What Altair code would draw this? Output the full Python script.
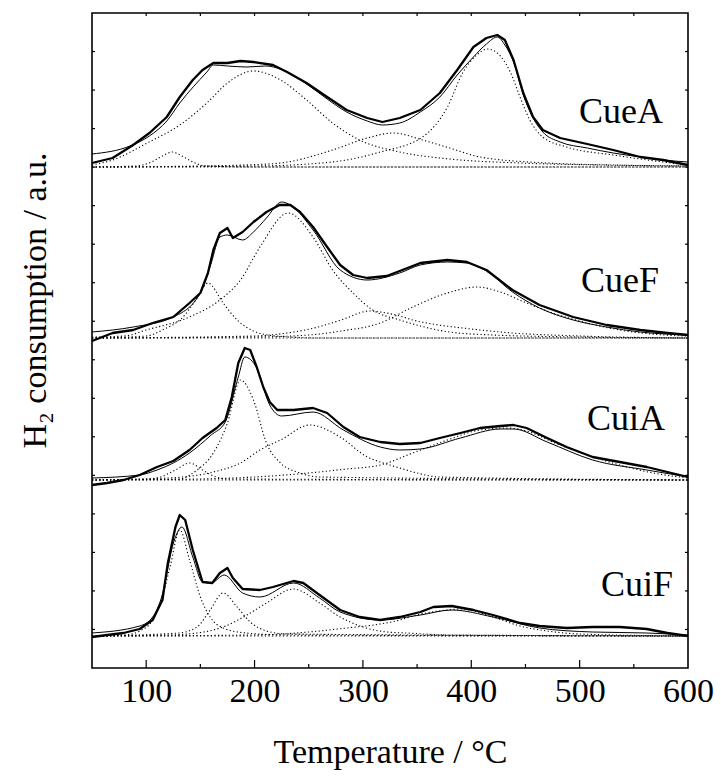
import altair as alt
import pandas as pd

# ---------------- data ----------------
# temperature (°C) and signal height (a.u.) above each profile's own baseline
panels = ["CueA", "CueF", "CuiA", "CuiF"]
panel_offsets = [501, 330, 188, 32]   # stacking offset of each profile (a.u.)

# ---- CueA ----
cuea_exp_t = [50, 69, 88, 103, 119, 131, 143, 152, 162, 175, 187, 199, 217, 230, 248, 267, 285, 304, 318, 334,
              353, 371, 387, 402, 414, 424, 431, 439, 448, 457, 466, 482, 507, 531, 556, 577, 600]
cuea_exp_h = [4, 9, 22, 34, 50, 70, 87, 97, 104, 104, 106, 105, 102, 95, 84, 70, 57, 49, 45, 49,
              57, 74, 97, 120, 129, 132, 127, 107, 74, 50, 37, 29, 23, 17, 10, 7, 2]
cuea_fit_t = [50, 85, 103, 119, 131, 156, 162, 175, 193, 210, 230, 248, 267, 285, 304, 318, 334, 353, 371, 387,
              402, 414, 424, 431, 439, 448, 457, 466, 482, 507, 531, 556, 577, 600]
cuea_fit_h = [13, 21, 31, 46, 64, 95, 102, 101, 100, 101, 95, 83, 68, 55, 46, 42, 44, 55, 70, 92,
              110, 123, 130, 122, 105, 72, 49, 35, 25, 19, 14, 10, 7, 5]
cuea_p1_t = [50, 90, 105, 115, 124, 133, 143, 155, 200, 600]
cuea_p1_h = [0, 1, 5, 11, 15, 11, 5, 1, 0, 0]
cuea_p2_t = [50, 69, 101, 131, 156, 175, 199, 224, 248, 272, 297, 334, 380, 445, 519, 600]
cuea_p2_h = [2, 7, 24, 42, 64, 84, 96, 87, 67, 44, 27, 15, 8, 4, 2, 1]
cuea_p3_t = [50, 150, 190, 224, 272, 304, 328, 355, 380, 408, 470, 530, 600]
cuea_p3_h = [0, 1, 2, 4, 17, 29, 34, 27, 19, 10, 4, 2, 1]
cuea_p4_t = [50, 200, 250, 290, 316, 355, 378, 392, 405, 415, 424, 436, 445, 454, 466, 488, 531, 577, 600]
cuea_p4_h = [0, 1, 3, 8, 15, 30, 60, 94, 112, 118, 114, 95, 70, 47, 30, 20, 12, 5, 2]

# ---- CueF ----
cuef_exp_t = [50, 69, 88, 106, 125, 140, 150, 157, 162, 168, 175, 180, 189, 199, 211, 223, 233, 242, 254, 267,
              279, 291, 304, 322, 334, 353, 378, 396, 414, 438, 463, 494, 525, 556, 581, 600]
cuef_exp_h = [-3, 5, 8, 15, 21, 35, 45, 65, 88, 105, 110, 100, 106, 116, 126, 133, 133, 126, 111, 91,
              73, 63, 60, 62, 67, 75, 78, 76, 68, 48, 33, 21, 13, 8, 5, 3]
cuef_fit_t = [50, 88, 125, 150, 160, 168, 175, 189, 199, 211, 225, 233, 254, 279, 304, 334, 353, 378, 396, 414,
              438, 463, 494, 525, 556, 600]
cuef_fit_h = [6, 11, 21, 45, 75, 101, 103, 98, 106, 120, 136, 133, 108, 68, 58, 65, 73, 76, 75, 67,
              46, 30, 18, 11, 6, 3]
cuef_p1_t = [50, 100, 115, 134, 147, 157, 171, 184, 199, 220, 260, 600]
cuef_p1_h = [0, 2, 8, 21, 40, 55, 35, 18, 7, 2, 0, 0]
cuef_p2_t = [50, 80, 100, 140, 168, 187, 205, 231, 254, 272, 291, 309, 334, 353, 380, 420, 500, 600]
cuef_p2_h = [1, 2, 8, 21, 38, 58, 91, 125, 101, 68, 45, 28, 18, 12, 6, 3, 1, 0]
cuef_p3_t = [50, 200, 230, 255, 280, 306, 316, 334, 346, 370, 392, 438, 500, 600]
cuef_p3_h = [0, 2, 5, 10, 18, 27, 26, 22, 18, 13, 10, 5, 2, 0]
cuef_p4_t = [50, 200, 250, 280, 316, 346, 378, 405, 427, 451, 475, 507, 537, 578, 600]
cuef_p4_h = [0, 1, 3, 7, 15, 31, 45, 51, 46, 35, 25, 15, 8, 3, 2]

# ---- CuiA ----
cuia_exp_t = [50, 64, 79, 94, 110, 125, 140, 152, 165, 173, 179, 185, 191, 196, 202, 208, 214, 221, 236, 254,
              267, 282, 297, 316, 334, 353, 371, 390, 408, 427, 439, 451, 470, 488, 512, 537, 562, 581, 600]
cuia_exp_h = [-5, -3, 0, 5, 13, 19, 30, 42, 52, 60, 83, 117, 132, 130, 113, 93, 78, 70, 70, 72,
              67, 53, 43, 38, 36, 37, 42, 47, 52, 54, 55, 52, 42, 33, 23, 18, 13, 8, 3]
cuia_fit_t = [50, 94, 110, 125, 140, 160, 173, 185, 191, 202, 214, 225, 254, 282, 316, 334, 353, 390, 427, 439,
              470, 512, 562, 600]
cuia_fit_h = [2, 5, 10, 17, 27, 45, 58, 103, 123, 112, 75, 64, 68, 50, 33, 30, 31, 42, 51, 51,
              38, 20, 10, 3]
cuia_p1_t = [50, 100, 113, 127, 140, 152, 160, 175, 600]
cuia_p1_h = [0, 1, 3, 10, 17, 10, 5, 1, 0]
cuia_p2_t = [50, 130, 147, 162, 175, 187, 199, 211, 224, 242, 260, 600]
cuia_p2_h = [0, 1, 10, 27, 57, 100, 80, 37, 17, 7, 3, 0]
cuia_p3_t = [50, 120, 162, 187, 205, 224, 251, 279, 304, 316, 334, 350, 370, 600]
cuia_p3_h = [0, 2, 8, 17, 30, 40, 55, 43, 23, 18, 12, 7, 3, 0]
cuia_p4_t = [50, 150, 200, 250, 285, 316, 346, 378, 408, 433, 451, 475, 507, 537, 568, 600]
cuia_p4_h = [0, 1, 3, 7, 11, 15, 27, 40, 50, 52, 49, 38, 25, 15, 7, 2]

# ---- CuiF ----
cuif_exp_t = [50, 64, 79, 94, 106, 115, 120, 127, 131, 136, 143, 152, 161, 168, 175, 180, 189, 205, 217, 236,
              245, 260, 279, 297, 316, 334, 353, 365, 382, 402, 420, 445, 463, 488, 512, 537, 562, 581, 600]
cuif_exp_h = [-1, 1, 3, 7, 16, 36, 73, 109, 121, 116, 86, 54, 53, 63, 68, 58, 47, 46, 49, 55,
              53, 41, 26, 19, 16, 19, 24, 29, 30, 26, 21, 13, 10, 8, 9, 9, 7, 3, 0]
cuif_fit_t = [50, 94, 106, 114, 126, 133, 143, 152, 160, 172, 189, 205, 236, 260, 279, 316, 353, 382, 420, 463,
              512, 562, 600]
cuif_fit_h = [3, 10, 19, 38, 96, 109, 79, 54, 53, 61, 43, 39, 53, 38, 24, 16, 21, 26, 19, 8,
              4, 3, 1]
cuif_p1_t = [50, 80, 94, 106, 115, 122, 131, 140, 150, 159, 171, 192, 230, 600]
cuif_p1_h = [0, 1, 5, 16, 39, 69, 106, 76, 39, 19, 8, 3, 1, 0]
cuif_p2_t = [50, 130, 147, 159, 171, 184, 196, 211, 230, 600]
cuif_p2_h = [0, 3, 9, 26, 43, 29, 14, 5, 2, 0]
cuif_p3_t = [50, 120, 147, 171, 193, 211, 236, 260, 279, 300, 322, 340, 380, 600]
cuif_p3_h = [0, 1, 3, 9, 21, 33, 47, 33, 19, 9, 4, 3, 1, 0]
cuif_p4_t = [50, 200, 250, 285, 316, 334, 346, 378, 390, 420, 445, 470, 500, 600]
cuif_p4_h = [0, 1, 4, 8, 12, 16, 20, 26, 27, 19, 10, 5, 2, 0]

baseline_t = [50, 600]
baseline_h = [0, 0]

# axis tick values
x_label_values = [100, 200, 300, 400, 500, 600]
x_major_ticks = [100, 200, 300, 400, 500]
x_minor_ticks = [150, 250, 350, 450, 550]
x_top_ticks = [100, 150, 200, 250, 300, 350, 400, 450, 500, 550]
y_ticks = [round(655 * k / 17, 2) for k in range(1, 17)]

# ---------------- assemble table ----------------
series = {
    "CueA": {"exp": (cuea_exp_t, cuea_exp_h), "fit": (cuea_fit_t, cuea_fit_h),
             "p1": (cuea_p1_t, cuea_p1_h), "p2": (cuea_p2_t, cuea_p2_h),
             "p3": (cuea_p3_t, cuea_p3_h), "p4": (cuea_p4_t, cuea_p4_h), "base": (baseline_t, baseline_h)},
    "CueF": {"exp": (cuef_exp_t, cuef_exp_h), "fit": (cuef_fit_t, cuef_fit_h),
             "p1": (cuef_p1_t, cuef_p1_h), "p2": (cuef_p2_t, cuef_p2_h),
             "p3": (cuef_p3_t, cuef_p3_h), "p4": (cuef_p4_t, cuef_p4_h), "base": (baseline_t, baseline_h)},
    "CuiA": {"exp": (cuia_exp_t, cuia_exp_h), "fit": (cuia_fit_t, cuia_fit_h),
             "p1": (cuia_p1_t, cuia_p1_h), "p2": (cuia_p2_t, cuia_p2_h),
             "p3": (cuia_p3_t, cuia_p3_h), "p4": (cuia_p4_t, cuia_p4_h), "base": (baseline_t, baseline_h)},
    "CuiF": {"exp": (cuif_exp_t, cuif_exp_h), "fit": (cuif_fit_t, cuif_fit_h),
             "p1": (cuif_p1_t, cuif_p1_h), "p2": (cuif_p2_t, cuif_p2_h),
             "p3": (cuif_p3_t, cuif_p3_h), "p4": (cuif_p4_t, cuif_p4_h), "base": (baseline_t, baseline_h)},
}

rows = []
for name, off in zip(panels, panel_offsets):
    for key, (ts, hs) in series[name].items():
        kind = key if key in ("exp", "fit") else "comp"
        for t, h in zip(ts, hs):
            rows.append({"T": t, "y": off + h, "curve": f"{name}-{key}", "kind": kind})
df = pd.DataFrame(rows)

# ---------------- chart ----------------
FONT = "Liberation Serif"
x_scale = alt.Scale(domain=[50, 600], nice=False, zero=False)
y_scale = alt.Scale(domain=[0, 655], nice=False, zero=False)
x_axis = alt.Axis(values=x_label_values, title="Temperature / °C", grid=False, ticks=False, tickSize=0,
                  domain=False, labelFont=FONT, labelFontSize=34, labelColor="black", labelPadding=6,
                  titleFont=FONT, titleFontSize=34, titleFontWeight="normal", titleColor="black",
                  titlePadding=27, labelFlush=False, labelOverlap=False)
y_axis = alt.Axis(title="H₂ consumption / a.u.", grid=False, ticks=False, tickSize=0, labels=False,
                  domain=False, titleFont=FONT, titleFontSize=34, titleFontWeight="normal",
                  titleColor="black", titlePadding=40, titleY=287)


def X():
    return alt.X("T:Q", scale=x_scale, axis=x_axis)


def Y():
    return alt.Y("y:Q", scale=y_scale, axis=y_axis)


base = alt.Chart(df)
comp = base.transform_filter(alt.datum.kind == "comp").mark_line(
    color="black", strokeWidth=1.1, strokeDash=[1.2, 2.4], interpolate="monotone"
).encode(x=X(), y=Y(), detail="curve:N")
fit = base.transform_filter(alt.datum.kind == "fit").mark_line(
    color="black", strokeWidth=1.0, interpolate="monotone"
).encode(x=X(), y=Y(), detail="curve:N")
exp = base.transform_filter(alt.datum.kind == "exp").mark_line(
    color="black", strokeWidth=2.3, interpolate="linear", strokeJoin="round"
).encode(x=X(), y=Y(), detail="curve:N")

H = 655
W = 596
major = alt.Chart(pd.DataFrame({"T": x_major_ticks})).mark_rule(color="black", strokeWidth=1.2).encode(
    x=X(), y=alt.value(H), y2=alt.value(H - 8))
minor = alt.Chart(pd.DataFrame({"T": x_minor_ticks})).mark_rule(color="black", strokeWidth=1.2).encode(
    x=X(), y=alt.value(H), y2=alt.value(H - 4))
top = alt.Chart(pd.DataFrame({"T": x_top_ticks})).mark_rule(color="black", strokeWidth=1.2).encode(
    x=X(), y=alt.value(0), y2=alt.value(3))
left = alt.Chart(pd.DataFrame({"y": y_ticks})).mark_rule(color="black", strokeWidth=1.2).encode(
    y=Y(), x=alt.value(0), x2=alt.value(3))
right = alt.Chart(pd.DataFrame({"y": y_ticks})).mark_rule(color="black", strokeWidth=1.2).encode(
    y=Y(), x=alt.value(W), x2=alt.value(W - 3))

label_pos = {"CueA": (529, 99), "CueF": (528, 268), "CuiA": (534, 406), "CuiF": (545, 572)}
labels = []
for name in panels:
    lx, ly = label_pos[name]
    labels.append(
        alt.Chart(pd.DataFrame({"label": [name]})).mark_text(
            font=FONT, fontSize=36, color="black", align="center", baseline="middle"
        ).encode(x=alt.value(lx), y=alt.value(ly), text="label:N")
    )

chart = alt.layer(comp, fit, exp, major, minor, top, left, right, *labels).properties(
    width=W, height=H,
    padding={"left": 92, "top": 13, "right": 33, "bottom": 112},
    autosize=alt.AutoSizeParams(type="none"),
    background="white",
).configure_view(stroke="black", strokeWidth=1.6)

chart.save("out.html", embed_options={"renderer": "svg", "actions": False})
